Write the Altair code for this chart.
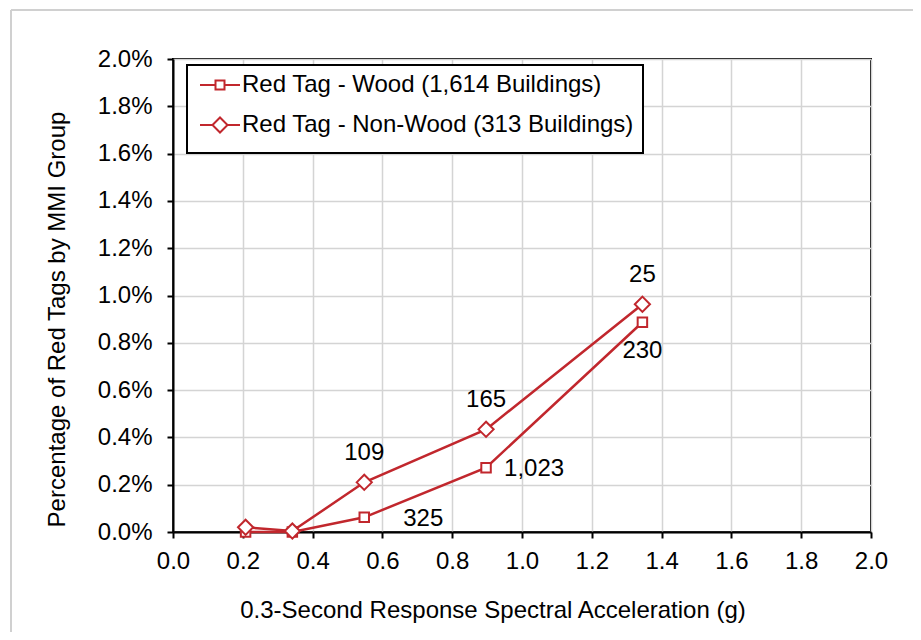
import altair as alt
import pandas as pd

# ---- data ----
accel = [0.208, 0.342, 0.548, 0.897, 1.345]
wood_pct = [0.0, 0.0, 0.00062, 0.00272, 0.00887]
nonwood_pct = [0.00020, 0.00004, 0.00210, 0.00434, 0.00963]
wood_counts = [None, None, "325", "1,023", "230"]
nonwood_counts = [None, None, "109", "165", "25"]
WOOD = "Red Tag - Wood (1,614 Buildings)"
NONWOOD = "Red Tag - Non-Wood (313 Buildings)"
x_ticks = [0.0, 0.2, 0.4, 0.6, 0.8, 1.0, 1.2, 1.4, 1.6, 1.8, 2.0]
y_ticks = [0.0, 0.002, 0.004, 0.006, 0.008, 0.010, 0.012, 0.014, 0.016, 0.018, 0.020]

RED = "#c1272d"
FONT = "Liberation Sans"
FS = 24

rows = []
for a, p, c in zip(accel, wood_pct, wood_counts):
    rows.append({"x": a, "pct": p, "series": WOOD, "count": c})
for a, p, c in zip(accel, nonwood_pct, nonwood_counts):
    rows.append({"x": a, "pct": p, "series": NONWOOD, "count": c})
df = pd.DataFrame(rows)

xenc = alt.X("x:Q", scale=alt.Scale(domain=[0, 2.0], nice=False),
             axis=alt.Axis(values=x_ticks, format=".1f", labelFlush=False,
                           title="0.3-Second Response Spectral Acceleration (g)",
                           titleX=319.5, titleY=85, titleBaseline="alphabetic",
                           titleAlign="center",
                           labelBaseline="alphabetic", labelPadding=30, tickSize=6))
yenc = alt.Y("pct:Q", scale=alt.Scale(domain=[0, 0.02], nice=False),
             axis=alt.Axis(values=y_ticks, format=".1%", labelFlush=False,
                           title="Percentage of Red Tags by MMI Group",
                           titleX=-109, titleY=260, titleBaseline="alphabetic",
                           titleAlign="center", titleAngle=-90,
                           labelPadding=15, tickSize=6))

base = alt.Chart(df)
one = alt.Chart(pd.DataFrame({"k": [1]}))

frame_top = one.mark_rule(stroke="#d0d0d0", strokeWidth=2).encode(
    x=alt.value(-162), x2=alt.value(800), y=alt.value(-49))
frame_left = one.mark_rule(stroke="#d0d0d0", strokeWidth=2).encode(
    x=alt.value(-162), y=alt.value(-49), y2=alt.value(700))

legend_box = one.mark_rect(fill="white", stroke="black", strokeWidth=2).encode(
    x=alt.value(14), x2=alt.value(470), y=alt.value(6), y2=alt.value(94))

lines = base.mark_line(color=RED, strokeWidth=2.5).encode(
    x=xenc, y=yenc, detail="series:N")

sq = base.transform_filter(alt.datum.series == WOOD).mark_point(
    shape="square", size=90, filled=True, fill="white", stroke=RED,
    strokeWidth=2, fillOpacity=1, opacity=1).encode(x="x:Q", y="pct:Q")
dm = base.transform_filter(alt.datum.series == NONWOOD).mark_point(
    shape="diamond", size=230, filled=True, fill="white", stroke=RED,
    strokeWidth=2, fillOpacity=1, opacity=1).encode(x="x:Q", y="pct:Q")

txt = dict(font=FONT, fontSize=FS, color="black")
lab_nw = base.transform_filter(
    (alt.datum.series == NONWOOD) & alt.expr.isValid(alt.datum["count"])
).mark_text(align="center", baseline="middle", dy=-29, **txt).encode(
    x="x:Q", y="pct:Q", text="count:N")
lab_w1 = base.transform_filter(
    (alt.datum.series == WOOD) & (alt.datum["count"] == "325")
).mark_text(align="left", baseline="middle", dx=39, dy=2, **txt).encode(
    x="x:Q", y="pct:Q", text="count:N")
lab_w2 = base.transform_filter(
    (alt.datum.series == WOOD) & (alt.datum["count"] == "1,023")
).mark_text(align="left", baseline="middle", dx=18, dy=1, **txt).encode(
    x="x:Q", y="pct:Q", text="count:N")
lab_w3 = base.transform_filter(
    (alt.datum.series == WOOD) & (alt.datum["count"] == "230")
).mark_text(align="center", baseline="middle", dy=29, **txt).encode(
    x="x:Q", y="pct:Q", text="count:N")

SQ_PATH = "M -2 0 L -0.45 0 M 0.45 0 L 2 0 M -0.45 -0.45 L 0.45 -0.45 L 0.45 0.45 L -0.45 0.45 Z"
DM_PATH = "M -2 0 L -0.75 0 M 0.75 0 L 2 0 M -0.75 0 L 0 -0.75 L 0.75 0 L 0 0.75 Z"

legend_layer = base.mark_point(
    filled=False, color=RED, strokeWidth=2, opacity=0).encode(
    x="x:Q", y="pct:Q",
    shape=alt.Shape("series:N",
                    scale=alt.Scale(domain=[WOOD, NONWOOD], range=[SQ_PATH, DM_PATH]),
                    legend=alt.Legend(title=None, orient="none", legendX=35, legendY=14,
                                      padding=0, symbolSize=400, symbolStrokeWidth=2,
                                      symbolOpacity=1, symbolStrokeColor=RED,
                                      labelFont=FONT, labelFontSize=FS, labelColor="black",
                                      labelOffset=10, rowPadding=16, labelLimit=600)))

chart = alt.layer(frame_top, frame_left, legend_box, lines, legend_layer, sq, dm,
                  lab_nw, lab_w1, lab_w2, lab_w3).properties(
    width=698, height=473,
    autosize=alt.AutoSizeParams(type="none"),
    padding={"left": 165, "top": 51, "right": 42, "bottom": 100},
).configure_view(stroke="black", strokeWidth=2).configure_axis(
    grid=True, gridColor="#d4d4d4", gridWidth=1.5,
    domainColor="black", domainWidth=2, tickColor="black", tickWidth=2,
    labelFont=FONT, labelFontSize=FS, labelColor="black",
    titleFont=FONT, titleFontSize=FS, titleColor="black", titleFontWeight="normal",
)

chart.save("out.html", embed_options={"renderer": "svg", "actions": False})
